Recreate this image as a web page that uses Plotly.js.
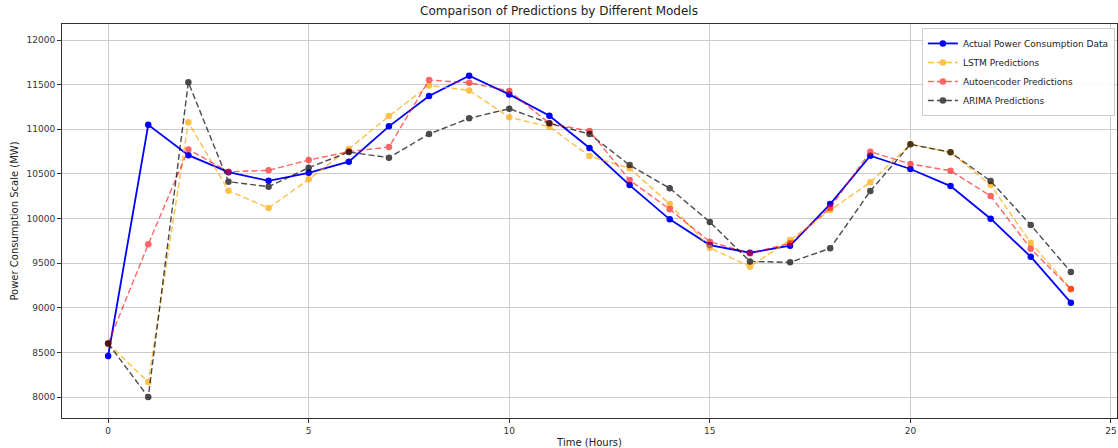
<!DOCTYPE html>
<html>
<head>
<meta charset="utf-8">
<script src="https://cdn.plot.ly/plotly-3.0.1.min.js"></script>
<style>html,body{margin:0;padding:0;background:#fff;}#chart{width:1118px;height:448px;}</style>
</head>
<body>
<div id="chart"></div>
<script>
const hours = [0,1,2,3,4,5,6,7,8,9,10,11,12,13,14,15,16,17,18,19,20,21,22,23,24];
const actual = [8460,11050,10710,10520,10423,10513,10637,11033,11373,11600,11391,11152,10790,10375,9991,9703,9617,9695,10162,10704,10555,10364,9998,9572,9057];
const lstm = [8600,8168,11078,10312,10118,10439,10780,11148,11492,11436,11134,11029,10700,10563,10162,9673,9460,9759,10095,10406,10832,10742,10375,9729,9210];
const autoenc = [8600,9711,10775,10524,10540,10655,10750,10801,11552,11522,11429,11067,10980,10431,10103,9740,9610,9722,10121,10749,10611,10536,10252,9662,9210];
const arima = [8600,8000,11526,10413,10357,10570,10745,10682,10947,11123,11231,11067,10947,10599,10339,9961,9520,9509,9666,10308,10832,10742,10420,9927,9401];
const names = ['Actual Power Consumption Data','LSTM Predictions','Autoencoder Predictions','ARIMA Predictions'];
const xTicks = [0,5,10,15,20,25];
const yTicks = [8000,8500,9000,9500,10000,10500,11000,11500,12000];
const yTickText = ['8000','8500','9000','9500','10000','10500','11000','11500','12000'];

const traces = [
  {x:hours, y:actual, name:names[0], mode:'lines+markers', type:'scatter',
   line:{color:'#0000ff', width:1.8}, marker:{color:'#0000ff', size:6.5}},
  {x:hours, y:lstm, name:names[1], mode:'lines+markers', type:'scatter', opacity:0.7,
   line:{color:'#ffa500', width:1.4, dash:'6px,3px'}, marker:{color:'#ffa500', size:6.5}},
  {x:hours, y:autoenc, name:names[2], mode:'lines+markers', type:'scatter', opacity:0.6,
   line:{color:'#ff0000', width:1.4, dash:'6px,3px'}, marker:{color:'#ff0000', size:6.5}},
  {x:hours, y:arima, name:names[3], mode:'lines+markers', type:'scatter', opacity:0.7,
   line:{color:'#000000', width:1.4, dash:'6px,3px'}, marker:{color:'#000000', size:6.5}}
];

const axisCommon = {
  showline:true, mirror:true, linecolor:'#333', linewidth:1,
  showgrid:true, gridcolor:'#cccccc', gridwidth:1, zeroline:false,
  ticks:'outside', ticklen:4, tickcolor:'#333',
  tickfont:{family:'DejaVu Sans', size:9, color:'#333'}
};

const layout = {
  width:1118, height:448,
  margin:{l:62, r:1, t:24, b:30},
  paper_bgcolor:'#fff', plot_bgcolor:'#fff',
  font:{family:'DejaVu Sans', color:'#222'},
  title:{text:'Comparison of Predictions by Different Models', font:{family:'DejaVu Sans', size:12, color:'#222'}, x:0.5, xanchor:'center', y:0.985, yanchor:'top'},
  xaxis:Object.assign({}, axisCommon, {range:[-1.15,25.15], tickvals:xTicks,
    title:{text:'Time (Hours)', font:{family:'DejaVu Sans', size:10, color:'#222'}, standoff:4}}),
  yaxis:Object.assign({}, axisCommon, {range:[7765,12180], tickvals:yTicks, ticktext:yTickText,
    title:{text:'Power Consumption Scale (MW)', font:{family:'DejaVu Sans', size:10, color:'#222'}, standoff:6}}),
  showlegend:true,
  legend:{x:0.998, xanchor:'right', y:0.99, yanchor:'top', bgcolor:'rgba(255,255,255,0.85)',
    bordercolor:'#cccccc', borderwidth:1, font:{family:'DejaVu Sans', size:9, color:'#222'},
    tracegroupgap:0, itemwidth:30}
};

Plotly.newPlot('chart', traces, layout, {displayModeBar:false, staticPlot:true});
</script>
</body>
</html>
